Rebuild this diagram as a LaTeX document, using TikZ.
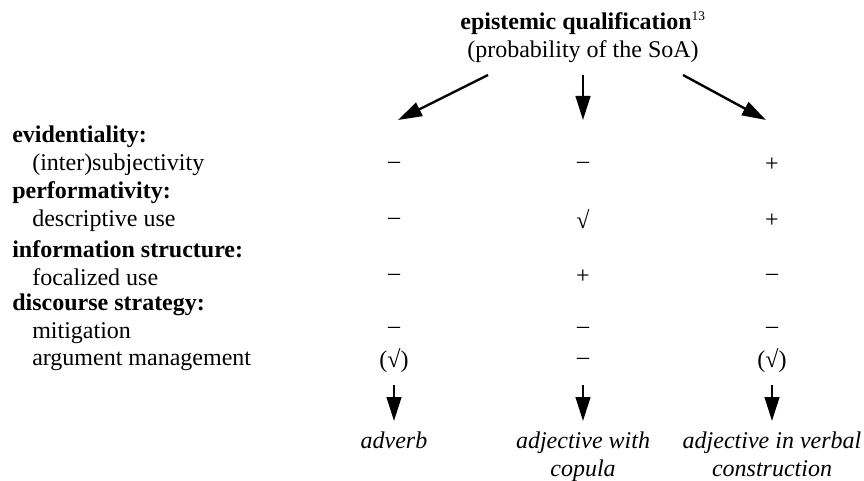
\documentclass[tikz,border=0pt]{standalone}
\usepackage{fontspec}
\setmainfont{Liberation Serif}
\usetikzlibrary{arrows.meta}
\begin{document}
\begin{tikzpicture}[x=0.75pt,y=-0.75pt,
  every node/.style={inner sep=0pt,font=\fontsize{18}{21}\selectfont},
  hd/.style={anchor=west,font=\fontsize{18}{21}\selectfont\bfseries},
  sub/.style={anchor=west},
  val/.style={anchor=center},
  res/.style={align=center,anchor=north,font=\fontsize{18}{20.5}\selectfont\itshape},
  arr/.style={line width=1.8pt,-{Triangle[length=18pt,width=11pt]}}]

  \useasboundingbox (0,0) rectangle (864,481);

  % Specification of nodes (position, etc.)
  \node[align=center] (epi) at (583,37) {\textbf{epistemic qualification}\textsuperscript{\fontsize{10}{10}\selectfont 13}\\(probability of the SoA)};

  \node[hd] (h1) at (12,137) {evidentiality:};
  \node[sub] (s1) at (32,165) {(inter)subjectivity};
  \node[hd] (h2) at (12,193) {performativity:};
  \node[sub] (s2) at (32,221) {descriptive use};
  \node[hd] (h3) at (12,249) {information structure:};
  \node[sub] (s3) at (32,277) {focalized use};
  \node[hd] (h4) at (12,305) {discourse strategy:};
  \node[sub] (s4) at (32,333) {mitigation};
  \node[sub] (s5) at (32,361) {argument management};

  % values, one row per feature
  \node[val] (v11) at (394,165) {–};
  \node[val] (v12) at (583,165) {–};
  \node[val] (v13) at (772,165) {+};
  \node[val] (v21) at (394,221) {–};
  \node[val] (v22) at (583,219) {√};
  \node[val] (v23) at (772,221) {+};
  \node[val] (v31) at (394,277) {–};
  \node[val] (v32) at (583,277) {+};
  \node[val] (v33) at (772,277) {–};
  \node[val] (v41) at (394,330) {–};
  \node[val] (v42) at (583,330) {–};
  \node[val] (v43) at (772,330) {–};
  \node[val] (v51) at (394,361) {(√)};
  \node[val] (v52) at (583,361) {–};
  \node[val] (v53) at (772,361) {(√)};

  \node[res] (r1) at (394,432) {adverb};
  \node[res] (r2) at (583,432) {adjective with\\copula};
  \node[res] (r3) at (772,432) {adjective in verbal\\construction};

  % arrow ends
  \coordinate (t1) at (488,75);
  \coordinate (t2) at (583,75);
  \coordinate (t3) at (683,75);
  \coordinate (e1) at (398,120);
  \coordinate (e2) at (583,120);
  \coordinate (e3) at (766,120);
  \coordinate (b1) at (394,385);
  \coordinate (b2) at (583,385);
  \coordinate (b3) at (772,385);
  \coordinate (d1) at (394,421);
  \coordinate (d2) at (583,421);
  \coordinate (d3) at (772,421);

  \begin{scope}[arr]
    \draw (t1) to (e1);
    \draw (t2) to (e2);
    \draw (t3) to (e3);
    \draw (b1) to (d1);
    \draw (b2) to (d2);
    \draw (b3) to (d3);
  \end{scope}

\end{tikzpicture}
\end{document}
